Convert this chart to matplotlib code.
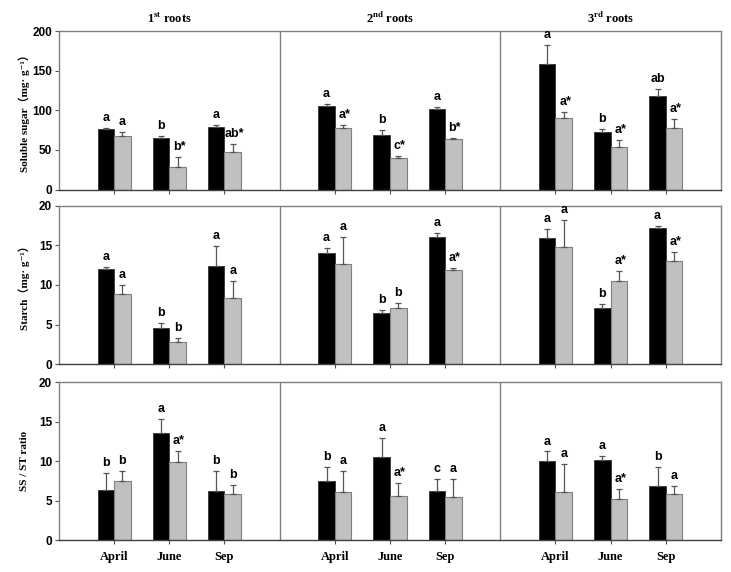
import numpy as np
import matplotlib
matplotlib.use("Agg")
import matplotlib.pyplot as plt

plt.rcParams["mathtext.fontset"] = "custom"
plt.rcParams["mathtext.rm"] = "Liberation Serif:bold"
plt.rcParams["mathtext.bf"] = "Liberation Serif:bold"

# --- data, order: 1st roots Apr/Jun/Sep, 2nd ..., 3rd ...
months = ["April", "June", "Sep"]
root_orders = ["1", "2", "3"]
root_sups = ["st", "nd", "rd"]

sugar_black = [76, 65, 79, 105, 69, 101, 158, 73, 118]
sugar_black_se = [2.2, 2.5, 2.1, 3.0, 6.0, 3.0, 24, 3.0, 9.0]
sugar_gray = [67, 29, 47.5, 77.5, 40, 63.5, 90, 54, 77]
sugar_gray_se = [5.0, 11.5, 9.7, 3.5, 2.5, 1.8, 7.5, 8.0, 12]
sugar_black_lab = ["a", "b", "a", "a", "b", "a", "a", "b", "ab"]
sugar_gray_lab = ["a", "b*", "ab*", "a*", "c*", "b*", "a*", "a*", "a*"]

starch_black = [12.0, 4.6, 12.4, 14.0, 6.5, 16.1, 15.9, 7.1, 17.15]
starch_black_se = [0.25, 0.6, 2.5, 0.65, 0.4, 0.5, 1.2, 0.45, 0.35]
starch_gray = [8.9, 2.85, 8.3, 12.6, 7.06, 11.85, 14.8, 10.5, 13.07]
starch_gray_se = [1.1, 0.45, 2.2, 3.5, 0.65, 0.35, 3.4, 1.25, 1.1]
starch_black_lab = ["a", "b", "a", "a", "b", "a", "a", "b", "a"]
starch_gray_lab = ["a", "b", "a", "a", "b", "a*", "a", "a*", "a*"]

ratio_black = [6.3, 13.6, 6.2, 7.5, 10.5, 6.2, 9.96, 10.1, 6.87]
ratio_black_se = [2.2, 1.75, 2.55, 1.7, 2.45, 1.5, 1.25, 0.5, 2.33]
ratio_gray = [7.47, 9.9, 5.78, 6.1, 5.6, 5.4, 6.04, 5.15, 5.86]
ratio_gray_se = [1.23, 1.37, 1.22, 2.6, 1.65, 2.35, 3.56, 1.3, 1.04]
ratio_black_lab = ["b", "a", "b", "b", "a", "c", "a", "a", "b"]
ratio_gray_lab = ["b", "a*", "b", "a", "a*", "a", "a", "a*", "a"]

rows = [
    ("Soluble sugar（mg· g⁻¹）", 200, 50, sugar_black, sugar_black_se, sugar_gray,
     sugar_gray_se, sugar_black_lab, sugar_gray_lab),
    ("Starch（mg· g⁻¹）", 20, 5, starch_black, starch_black_se, starch_gray,
     starch_gray_se, starch_black_lab, starch_gray_lab),
    ("SS / ST ratio", 20, 5, ratio_black, ratio_black_se, ratio_gray,
     ratio_gray_se, ratio_black_lab, ratio_gray_lab),
]

SERIF = ["Liberation Serif", "DejaVu Serif", "Noto Sans CJK SC"]
SANS = "Liberation Sans"

# group positions: 3 per panel, panels 4 units wide
xpos = np.array([p * 4 + m + 1 for p in range(3) for m in range(3)], float)
bw = 0.3

fig = plt.figure(figsize=(7.31, 5.72), dpi=100)
axes_rects = [(0.0807, 0.6687, 0.9056, 0.2771),
              (0.0807, 0.3631, 0.9056, 0.2773),
              (0.0807, 0.0559, 0.9056, 0.2762)]

for r, (rect, row) in enumerate(zip(axes_rects, rows)):
    ylab, ymax, ystep, bk, bk_se, gr, gr_se, bk_lab, gr_lab = row
    ax = fig.add_axes(rect)
    ekw = dict(ecolor="#555555", elinewidth=0.9, capsize=2.2, capthick=0.9)
    ax.bar(xpos - bw / 2, bk, bw, color="black", edgecolor="#333333", lw=0.6,
           yerr=[np.zeros(9), bk_se], error_kw=ekw, zorder=2)
    ax.bar(xpos + bw / 2, gr, bw, color="#c0c0c0", edgecolor="#7f7f7f", lw=0.8,
           yerr=[np.zeros(9), gr_se], error_kw=ekw, zorder=2)

    for x, v, e, t in zip(xpos - bw / 2, bk, bk_se, bk_lab):
        ax.annotate(t, (x, v + e), xytext=(0, 5), textcoords="offset points",
                    ha="center", va="baseline", fontsize=9, fontweight="bold",
                    family=SANS)
    for x, v, e, t in zip(xpos + bw / 2, gr, gr_se, gr_lab):
        ax.annotate(t, (x, v + e), xytext=(1 if "*" in t else 0, 5),
                    textcoords="offset points", ha="center", va="baseline",
                    fontsize=9, fontweight="bold", family=SANS)

    for sx in (4, 8):
        ax.axvline(sx, color="#808080", lw=1.0, zorder=1)

    ax.set_xlim(0, 12)
    ax.set_ylim(0, ymax)
    ax.set_yticks(np.arange(0, ymax + 1, ystep))
    for lbl in ax.get_yticklabels():
        lbl.set_fontfamily(SANS)
        lbl.set_fontweight("bold")
        lbl.set_fontsize(8.5)
    ax.tick_params(axis="y", length=3, width=0.8, color="#555555", pad=2)
    ax.set_xticks(xpos)
    if r == 2:
        ax.set_xticklabels(months * 3, family=SERIF, fontweight="bold",
                           fontsize=9)
    else:
        ax.set_xticklabels([])
    ax.tick_params(axis="x", length=3, width=0.8, color="#555555", pad=5)

    for side in ("top", "right", "left"):
        ax.spines[side].set_color("#808080")
        ax.spines[side].set_linewidth(1.0)
    ax.spines["bottom"].set_color("#404040")
    ax.spines["bottom"].set_linewidth(1.0)

    ax.text(-0.052, 0.5, ylab, transform=ax.transAxes, rotation=90,
            ha="center", va="center", fontsize=8, fontweight="bold",
            family=SERIF)

    if r == 0:
        for p in range(3):
            ax.text(p * 4 + 2, 1.08, f"{root_orders[p]}$^{{\\rm {root_sups[p]}}}$ roots",
                    transform=ax.get_xaxis_transform(), ha="center",
                    va="center", fontsize=9, fontweight="bold",
                    family="Liberation Serif")

fig.savefig("out.png", dpi=100)
